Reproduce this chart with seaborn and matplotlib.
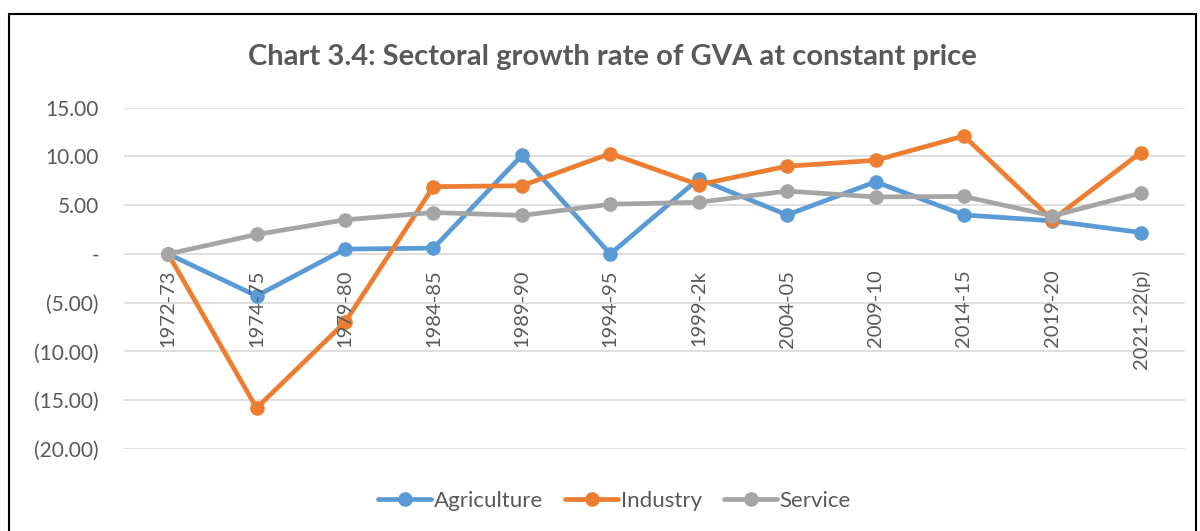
import numpy as np
import pandas as pd
import matplotlib
matplotlib.use('Agg')
import matplotlib.pyplot as plt
import matplotlib.ticker as mticker
from matplotlib.patches import Rectangle
import seaborn as sns

# ── Data ──────────────────────────────────────────────────────────────────────
PERIODS = ['1972-73', '1974-75', '1979-80', '1984-85', '1989-90', '1994-95',
           '1999-2k', '2004-05', '2009-10', '2014-15', '2019-20', '2021-22(p)']
AGRICULTURE = [0.0, -4.3, 0.5, 0.6, 10.1, 0.0, 7.7, 4.0, 7.4, 4.0, 3.4, 2.2]
INDUSTRY    = [0.0, -15.8, -7.0, 6.9, 7.0, 10.3, 7.1, 9.0, 9.6, 12.1, 3.5, 10.4]
SERVICE     = [0.0, 2.0, 3.5, 4.25, 3.95, 5.1, 5.3, 6.45, 5.85, 5.9, 3.9, 6.25]
SERIES      = ['Agriculture', 'Industry', 'Service']
COLORS      = ['#5B9BD5', '#ED7D31', '#A5A5A5']
Y_TICKS     = [15, 10, 5, 0, -5, -10, -15, -20]

df = pd.DataFrame({
    'period': PERIODS * 3,
    'value': AGRICULTURE + INDUSTRY + SERVICE,
    'sector': sum([[s] * len(PERIODS) for s in SERIES], []),
})

# ── Plot ──────────────────────────────────────────────────────────────────────
sns.set_style('white')
plt.rcParams['font.family'] = ['Lato', 'DejaVu Sans']
TEXT = '#595959'

fig = plt.figure(figsize=(12, 5.31), dpi=100)
ax = fig.add_axes([0.1033, 0.1544, 0.8842, 0.6428])

sns.lineplot(data=df, x='period', y='value', hue='sector', palette=COLORS,
             marker='o', markersize=10.5, markeredgewidth=0, linewidth=3.4,
             sort=False, ax=ax, legend=True)

ax.set_xlim(-0.5, len(PERIODS) - 0.5)
ax.set_ylim(-20, 15)
ax.set_yticks(Y_TICKS)

def fmt(v, pos):
    if abs(v) < 1e-9:
        return '-'
    return f'{v:.2f}' if v > 0 else f'({abs(v):.2f})'

ax.yaxis.set_major_formatter(mticker.FuncFormatter(fmt))
ax.tick_params(axis='y', labelsize=15, colors=TEXT, length=0, pad=18)
ax.set_xticks([])
ax.set_xlabel('')
ax.set_ylabel('')
ax.grid(axis='y', color='#D9D9D9', linewidth=1.2)
ax.set_axisbelow(True)
for s in ax.spines.values():
    s.set_visible(False)

# category labels sit just below the zero line
for i, p in enumerate(PERIODS):
    ax.text(i, -1.6, p, rotation=90, ha='center', va='top',
            fontsize=14.5, color=TEXT)

handles, labels = ax.get_legend_handles_labels()
ax.get_legend().remove()
fig.legend(handles, labels, loc='center', bbox_to_anchor=(0.512, 0.056),
           ncol=3, frameon=False, fontsize=16, handlelength=2.4,
           handletextpad=0.1, columnspacing=1.0, labelcolor=TEXT)

fig.text(0.51, 0.893, 'Chart 3.4: Sectoral growth rate of GVA at constant price',
         ha='center', va='center', fontsize=21, fontweight='bold', color=TEXT)

fig.patches.append(Rectangle((9 / 1200, -0.1), (1196 - 9) / 1200, 1.1 - 14 / 531,
                             transform=fig.transFigure, fill=False,
                             edgecolor='black', linewidth=1.5))

fig.savefig('out.png', dpi=100)
